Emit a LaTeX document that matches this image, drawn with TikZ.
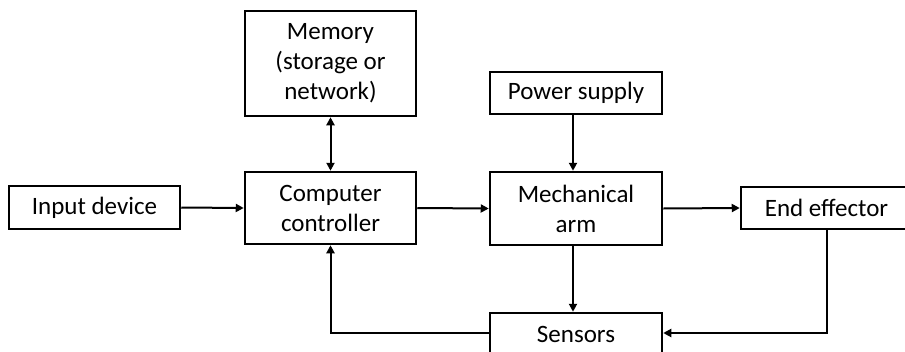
\documentclass[tikz,border=0pt]{standalone}
\usepackage{fontspec}
\setmainfont{Carlito}
\usetikzlibrary{arrows.meta}
\begin{document}
\begin{tikzpicture}[x=1pt,y=-1pt,
  blk/.style={draw=black,line width=2.5pt,fill=white,inner sep=0pt,align=center,
    font=\fontsize{25}{30}\selectfont,text=black},
  conn/.style={line width=2pt,-{Triangle[length=8pt,width=8pt]}},
  conn2/.style={line width=2pt,{Triangle[length=8pt,width=8pt]}-{Triangle[length=8pt,width=8pt]}}]
\clip (0,0) rectangle (905,351);
\fill[white] (0,0) rectangle (905,351);
\node[blk,minimum width=171pt,minimum height=43pt] (inp) at (94.5,207.5) {Input device};
\node[blk,minimum width=171pt,minimum height=105pt] (mem) at (330.5,63.5) {Memory\\(storage or\\network)};
\node[blk,minimum width=171pt,minimum height=72pt] (ctl) at (330.5,208) {Computer\\controller};
\node[blk,minimum width=172pt,minimum height=42pt] (pwr) at (576,93) {Power supply};
\node[blk,minimum width=172pt,minimum height=73pt] (arm) at (576,208.5) {Mechanical\\arm};
\node[blk,minimum width=171pt,minimum height=42pt] (eff) at (826.5,208) {End effector};
\node[blk,minimum width=172pt,minimum height=42pt] (sen) at (576,334) {Sensors};
\coordinate (fbL) at (330.5,333);
\coordinate (fbR) at (826.5,333);
\draw[conn] (inp.east) -- (ctl.west);
\draw[conn] (ctl.east) -- (arm.west);
\draw[conn] (arm.east) -- (eff.west);
\draw[conn2] (mem.south) -- (ctl.north);
\draw[conn] ([xshift=-3pt]pwr.south) -- ([xshift=-3pt]arm.north);
\draw[conn] ([xshift=-3pt]arm.south) -- ([xshift=-3pt]sen.north);
\draw[conn] (sen.west |- fbL) -- (fbL) -- (ctl.south);
\draw[conn] (eff.south) -- (fbR) -- (sen.east |- fbR);
\end{tikzpicture}
\end{document}
